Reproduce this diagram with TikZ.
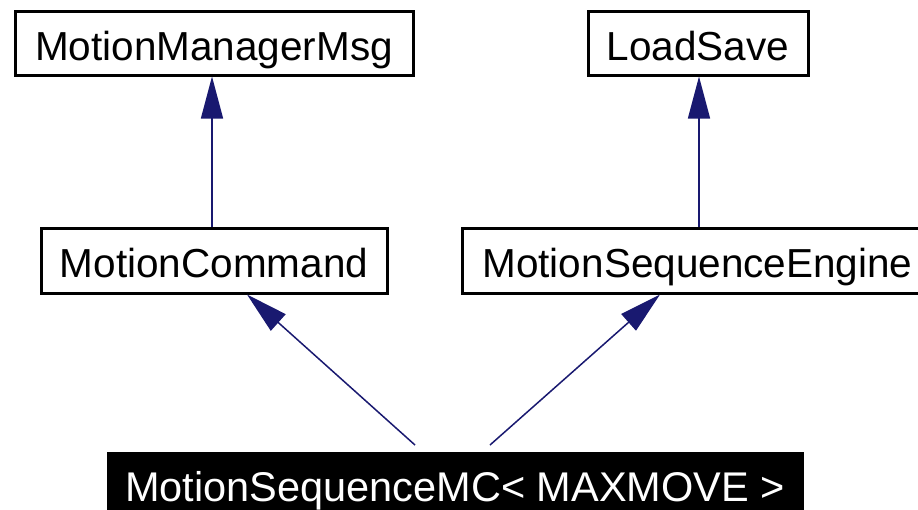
\documentclass[tikz,border=0pt]{standalone}
\usepackage{fontspec}
\setmainfont{Liberation Sans}
\usetikzlibrary{arrows.meta,calc}
\definecolor{edgecol}{HTML}{191970}
\tikzset{
  classbox/.style={draw=black, line width=3pt, fill=white, inner sep=0pt, minimum height=64pt, text height=40pt, text depth=6pt, font=\fontsize{40.5}{48}\selectfont},
  focusbox/.style={draw=black, line width=0pt, fill=black, text=white, inner sep=0pt, minimum height=64pt, text height=40pt, text depth=6pt, font=\fontsize{41.5}{48}\selectfont},
  inherit/.style={draw=edgecol, line width=1.5pt, -{Triangle[length=42pt, width=22pt, fill=edgecol]}}
}
\begin{document}
\begin{tikzpicture}[x=1pt, y=-1pt]
\useasboundingbox (0,0) rectangle (918,509);
\clip (0,0) rectangle (918,509);
\fill[white] (0,0) rectangle (918,509);
\node[classbox, minimum width=398pt] (mmm) at (214,43) {MotionManagerMsg};
\node[classbox, minimum width=220pt] (ls) at (698,43) {LoadSave};
\node[classbox, minimum width=346pt, minimum height=65pt] (mc) at (214,260.5) {MotionCommand};
\node[classbox, minimum width=471pt, minimum height=65pt] (mse) at (697.5,260.5) {MotionSequenceEngine};
\node[focusbox, minimum width=696pt] (msmc) at (455,484) {MotionSequenceMC< MAXMOVE >};
\draw[inherit] ([xshift=-2pt]mc.north) -- ([xshift=-2pt]mmm.south);
\draw[inherit] ([xshift=1.5pt]mse.north) -- ([xshift=1pt]ls.south);
\draw[inherit] ($(msmc.north)+(-40,-7)$) -- ($(mc.south)+(33,0)$);
\draw[inherit] ($(msmc.north)+(35,-7)$) -- ($(mse.south)+(-37.5,0)$);
\end{tikzpicture}
\end{document}
